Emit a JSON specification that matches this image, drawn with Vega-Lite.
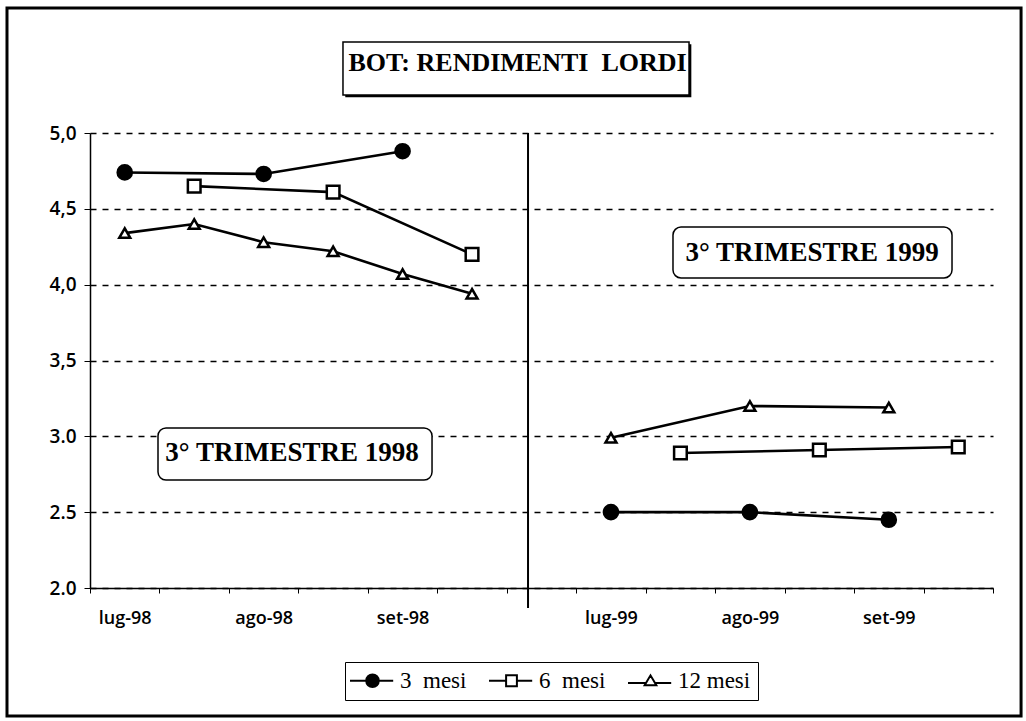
{
  "$schema": "https://vega.github.io/schema/vega-lite/v6.json",
  "autosize": "none",
  "padding": {"left": 90, "top": 133, "right": 33, "bottom": 133},
  "width": 903,
  "height": 455,
  "background": "white",
  "config": {"view": {"stroke": null}},
  "data": {
    "values": [
      {"serie": "3 mesi", "periodo": "III 1998", "t": 0.5, "rend": 4.74},
      {"serie": "3 mesi", "periodo": "III 1998", "t": 2.5, "rend": 4.73},
      {"serie": "3 mesi", "periodo": "III 1998", "t": 4.5, "rend": 4.88},
      {"serie": "6 mesi", "periodo": "III 1998", "t": 1.5, "rend": 4.65},
      {"serie": "6 mesi", "periodo": "III 1998", "t": 3.5, "rend": 4.61},
      {"serie": "6 mesi", "periodo": "III 1998", "t": 5.5, "rend": 4.20},
      {"serie": "12 mesi", "periodo": "III 1998", "t": 0.5, "rend": 4.34},
      {"serie": "12 mesi", "periodo": "III 1998", "t": 1.5, "rend": 4.40},
      {"serie": "12 mesi", "periodo": "III 1998", "t": 2.5, "rend": 4.28},
      {"serie": "12 mesi", "periodo": "III 1998", "t": 3.5, "rend": 4.22},
      {"serie": "12 mesi", "periodo": "III 1998", "t": 4.5, "rend": 4.07},
      {"serie": "12 mesi", "periodo": "III 1998", "t": 5.5, "rend": 3.94},
      {"serie": "3 mesi", "periodo": "III 1999", "t": 7.5, "rend": 2.50},
      {"serie": "3 mesi", "periodo": "III 1999", "t": 9.5, "rend": 2.50},
      {"serie": "3 mesi", "periodo": "III 1999", "t": 11.5, "rend": 2.45},
      {"serie": "6 mesi", "periodo": "III 1999", "t": 8.5, "rend": 2.89},
      {"serie": "6 mesi", "periodo": "III 1999", "t": 10.5, "rend": 2.91},
      {"serie": "6 mesi", "periodo": "III 1999", "t": 12.5, "rend": 2.93},
      {"serie": "12 mesi", "periodo": "III 1999", "t": 7.5, "rend": 2.99},
      {"serie": "12 mesi", "periodo": "III 1999", "t": 9.5, "rend": 3.20},
      {"serie": "12 mesi", "periodo": "III 1999", "t": 11.5, "rend": 3.19}
    ]
  },
  "encoding": {
    "x": {
      "field": "t", "type": "quantitative",
      "scale": {"domain": [0, 13], "nice": false, "zero": false},
      "axis": {
        "title": null,
        "values": [0,1,2,3,4,5,6,7,8,9,10,11,12,13],
        "labelExpr": "['lug-98','','ago-98','','set-98','','','lug-99','','ago-99','','set-99','',''][datum.value]",
        "labelOffset": 34.73,
        "labelAlign": "center",
        "labelFlush": false,
        "labelOverlap": false,
        "labelBound": false,
        "labelFont": "Open Sans",
        "labelFontWeight": 600,
        "labelFontSize": 18,
        "labelColor": "black",
        "labelPadding": 16,
        "tickSize": 5,
        "tickColor": "black",
        "tickWidth": 1,
        "domainColor": "black",
        "domainWidth": 1.5,
        "grid": false
      }
    },
    "y": {
      "field": "rend", "type": "quantitative",
      "scale": {"domain": [2, 5], "nice": false, "zero": false},
      "axis": {
        "title": null,
        "values": [2, 2.5, 3, 3.5, 4, 4.5, 5],
        "labelExpr": "datum.value == 5 ? '5,0' : datum.value == 4.5 ? '4,5' : datum.value == 4 ? '4,0' : datum.value == 3.5 ? '3,5' : datum.value == 3 ? '3.0' : datum.value == 2.5 ? '2.5' : '2.0'",
        "labelFont": "Open Sans",
        "labelFontWeight": 600,
        "labelFontSize": 19,
        "labelColor": "black",
        "labelPadding": 8,
        "tickSize": 6,
        "tickColor": "black",
        "domainColor": "black",
        "domainWidth": 1.5,
        "grid": true,
        "gridColor": "black",
        "gridDash": [6, 6],
        "gridWidth": 1.6,
        "gridOpacity": 1
      }
    }
  },
  "layer": [
    {
      "data": {"values": [{"a": -1.195, "a2": 13.404, "b": 5.824, "b2": 1.156}]},
      "mark": {"type": "rect", "fill": "white", "fillOpacity": 0, "stroke": "black", "strokeWidth": 3},
      "encoding": {
        "x": {"field": "a", "type": "quantitative"},
        "x2": {"field": "a2"},
        "y": {"field": "b", "type": "quantitative"},
        "y2": {"field": "b2"}
      }
    },
    {
      "data": {"values": [{"a": 3.675, "a2": 8.657, "b": 5.585, "b2": 5.235}]},
      "mark": {"type": "rect", "fill": "black"},
      "encoding": {
        "x": {"field": "a", "type": "quantitative"},
        "x2": {"field": "a2"},
        "y": {"field": "b", "type": "quantitative"},
        "y2": {"field": "b2"}
      }
    },
    {
      "data": {"values": [{"a": 3.642, "a2": 8.624, "b": 5.6, "b2": 5.25}]},
      "mark": {"type": "rect", "fill": "white", "stroke": "black", "strokeWidth": 1.5},
      "encoding": {
        "x": {"field": "a", "type": "quantitative"},
        "x2": {"field": "a2"},
        "y": {"field": "b", "type": "quantitative"},
        "y2": {"field": "b2"}
      }
    },
    {
      "data": {"values": [{"testo": "BOT: RENDIMENTI\u00a0 LORDI", "a": 6.155, "b": 5.462}]},
      "mark": {"type": "text", "font": "Liberation Serif", "fontWeight": "bold", "fontSize": 26, "align": "center", "baseline": "middle", "color": "black"},
      "encoding": {
        "x": {"field": "a", "type": "quantitative"},
        "y": {"field": "b", "type": "quantitative"},
        "text": {"field": "testo"}
      }
    },
    {
      "data": {"values": [{"a": 0.979, "a2": 4.924, "b": 3.055, "b2": 2.712}, {"a": 8.393, "a2": 12.41, "b": 4.38, "b2": 4.044}]},
      "mark": {"type": "rect", "fill": "white", "stroke": "black", "strokeWidth": 1.5, "cornerRadius": 8},
      "encoding": {
        "x": {"field": "a", "type": "quantitative"},
        "x2": {"field": "a2"},
        "y": {"field": "b", "type": "quantitative"},
        "y2": {"field": "b2"}
      }
    },
    {
      "data": {"values": [{"testo": "3° TRIMESTRE 1998", "a": 2.908, "b": 2.89}, {"testo": "3° TRIMESTRE 1999", "a": 10.395, "b": 4.21}]},
      "mark": {"type": "text", "font": "Liberation Serif", "fontWeight": "bold", "fontSize": 27, "align": "center", "baseline": "middle", "color": "black"},
      "encoding": {
        "x": {"field": "a", "type": "quantitative"},
        "y": {"field": "b", "type": "quantitative"},
        "text": {"field": "testo"}
      }
    },
    {
      "data": {"values": [{"a": 6.306, "b": 5, "b2": 1.868}]},
      "mark": {"type": "rule", "stroke": "black", "strokeWidth": 2},
      "encoding": {
        "x": {"field": "a", "type": "quantitative"},
        "y": {"field": "b", "type": "quantitative"},
        "y2": {"field": "b2"}
      }
    },
    {
      "mark": {"type": "line", "stroke": "black", "strokeWidth": 2.6},
      "encoding": {
        "detail": [{"field": "serie"}, {"field": "periodo"}]
      }
    },
    {
      "mark": {"type": "point", "stroke": "black", "strokeWidth": 2.5, "opacity": 1, "fillOpacity": 1},
      "encoding": {
        "shape": {"field": "serie", "type": "nominal", "scale": {"domain": ["3 mesi", "6 mesi", "12 mesi"], "range": ["circle", "square", "triangle-up"]}, "legend": null},
        "fill": {"field": "serie", "type": "nominal", "scale": {"domain": ["3 mesi", "6 mesi", "12 mesi"], "range": ["black", "white", "white"]}, "legend": null},
        "size": {"field": "serie", "type": "nominal", "scale": {"domain": ["3 mesi", "6 mesi", "12 mesi"], "range": [200, 120, 140]}, "legend": null}
      }
    },
    {
      "mark": {"type": "point", "stroke": "black", "strokeWidth": 2, "opacity": 0},
      "encoding": {
        "shape": {
          "field": "serie", "type": "nominal",
          "scale": {"domain": ["3 mesi", "6 mesi", "12 mesi"], "range": [
            "M-1.5,0H0.3A0.7,0.7,0,1,1,1.7,0H3.3M1.7,0A0.7,0.7,0,1,1,0.3,0M0.45,0A0.55,0.55,0,1,1,1.55,0A0.55,0.55,0,1,1,0.45,0M0.6,0A0.4,0.4,0,1,1,1.4,0A0.4,0.4,0,1,1,0.6,0M0.75,0A0.25,0.25,0,1,1,1.25,0A0.25,0.25,0,1,1,0.75,0M0.9,0A0.1,0.1,0,1,1,1.1,0A0.1,0.1,0,1,1,0.9,0",
            "M-1.5,0H0.4V-0.6H1.6V0H3.3M1.6,0V0.6H0.4V0",
            "M-1.5,0.25H0.498L1,-0.6L1.502,0.25H3.3M1.502,0.25L1.65,0.5H0.35L0.498,0.25"
          ]},
          "legend": {
            "orient": "none", "legendX": 255, "legendY": 529,
            "direction": "horizontal", "columns": 3,
            "title": null,
            "symbolSize": 324, "symbolOpacity": 1, "symbolStrokeWidth": 2, "symbolStrokeColor": "black", "symbolFillColor": "white",
            "labelOffset": 25, "columnPadding": 18,
            "labelFont": "Liberation Serif", "labelFontSize": 23, "labelColor": "black",
            "labelExpr": "datum.label == '12 mesi' ? '12 mesi' : replace(datum.label, ' ', '\u00a0\u00a0')",
            "padding": 7, "strokeColor": "black", "fillColor": "white",
            "encode": {"legend": {"update": {"strokeWidth": {"value": 1.5}}}}
          }
        }
      }
    }
  ],
  "resolve": {"scale": {"shape": "independent", "fill": "independent", "size": "independent"}}
}
